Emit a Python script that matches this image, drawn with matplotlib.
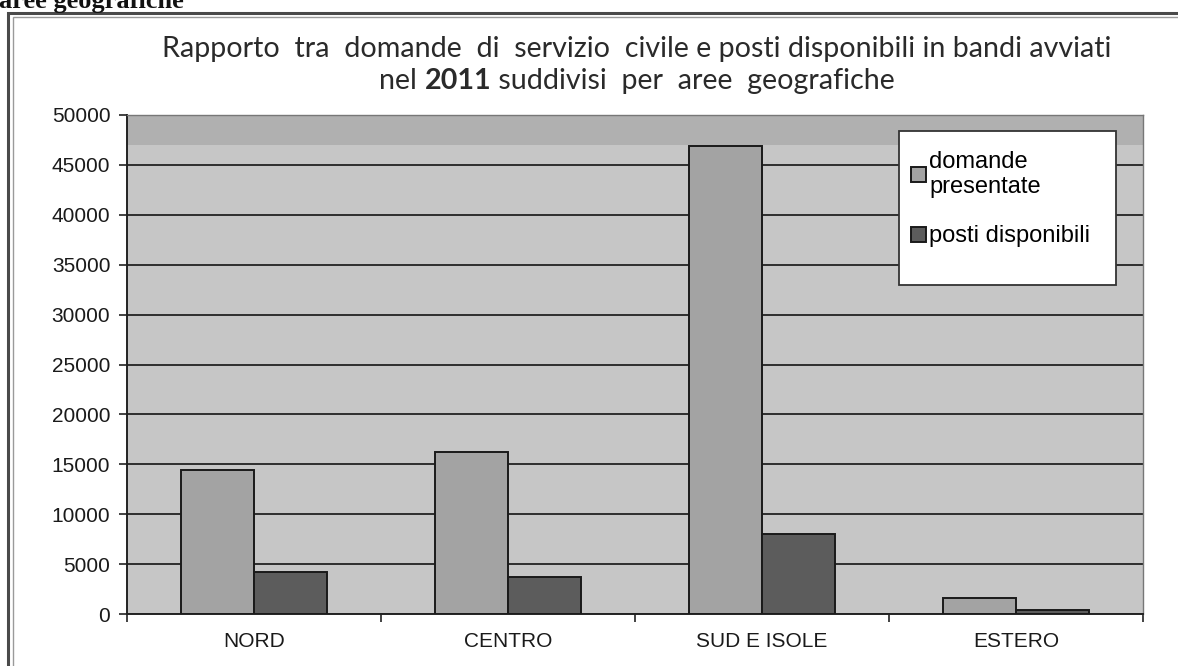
import numpy as np
import matplotlib
matplotlib.use("Agg")
import matplotlib.pyplot as plt
from matplotlib.patches import Rectangle

# data
aree = ["NORD", "CENTRO", "SUD E ISOLE", "ESTERO"]
domande = [14400, 16250, 46900, 1650]
posti = [4200, 3700, 8000, 450]
y_ticks = [0, 5000, 10000, 15000, 20000, 25000, 30000, 35000, 40000, 45000, 50000]

W, H = 1178, 666
fig = plt.figure(figsize=(W / 100, H / 100), dpi=100)
fig.patch.set_facecolor("white")

# outer double frame of the scanned page
fig.add_artist(Rectangle((8 / W, -0.1), 1.2, (H - 13) / H + 0.1, transform=fig.transFigure,
                         fill=False, ec="#4a4a4a", lw=2.2))
fig.add_artist(Rectangle((13 / W, -0.1), 1.2, (H - 17) / H + 0.1, transform=fig.transFigure,
                         fill=False, ec="#9a9a9a", lw=1.0))

# caption cut off at the top of the scan
fig.text(-1 / W, (H - 8) / H, "aree geografiche", family="Liberation Serif",
         weight="bold", fontsize=19, va="baseline", ha="left", color="#111111")

ax = fig.add_axes([127 / W, (H - 614) / H, (1143 - 127) / W, (614 - 115) / H])
ax.set_facecolor("#c6c6c6")
ax.axhspan(47000, 50000, color="#b0b0b0", zorder=0, lw=0)

x = np.arange(len(aree))
w = 1 / 3.5
ax.bar(x - w / 2, domande, w, color="#a3a3a3", edgecolor="#1a1a1a", lw=1.4,
       label="domande\npresentate", zorder=3)
ax.bar(x + w / 2, posti, w, color="#5c5c5c", edgecolor="#1a1a1a", lw=1.4,
       label="posti disponibili", zorder=3)

ax.set_ylim(0, 50000)
ax.set_xlim(-0.5, len(aree) - 0.5)
ax.set_yticks(y_ticks)
ax.set_yticklabels([str(v) for v in y_ticks])
ax.yaxis.grid(True, color="#222222", lw=1.3, zorder=1)
ax.set_axisbelow(True)

ax.set_xticks(x)
ax.set_xticklabels(aree)
ax.set_xticks(np.arange(len(aree) + 1) - 0.5, minor=True)
ax.tick_params(axis="x", which="major", length=0, pad=13)
ax.tick_params(axis="x", which="minor", length=6, width=1.2, color="#222222", direction="out")
ax.tick_params(axis="y", length=6, width=1.2, color="#222222", pad=6)
for lab in ax.get_xticklabels() + ax.get_yticklabels():
    lab.set_family("Liberation Sans")
    lab.set_fontsize(15)
    lab.set_color("#1a1a1a")

for s in ("left", "bottom"):
    ax.spines[s].set_color("#222222")
    ax.spines[s].set_linewidth(1.4)
for s in ("top", "right"):
    ax.spines[s].set_color("#777777")
    ax.spines[s].set_linewidth(1.0)

# legend box (Excel style, white with extra room)
ax.add_patch(Rectangle((0.760, 0.659), 0.213, 0.309, transform=ax.transAxes,
                       facecolor="white", edgecolor="#333333", lw=1.3, zorder=5))
leg = ax.legend(loc="upper left", bbox_to_anchor=(0.772, 0.928), frameon=False,
                prop={"family": "Liberation Sans", "size": 17}, handlelength=0.6,
                handleheight=0.6, handletextpad=0.15, labelspacing=1.15, borderaxespad=0,
                borderpad=0)
leg.set_zorder(6)

# two-line title, "2011" in bold
tfam = "Lato"
tsize = 20.6
cx = 637 / W
fig.text(cx, (H - 49) / H,
         "Rapporto  tra  domande  di  servizio  civile e posti disponibili in bandi avviati",
         family=tfam, fontsize=tsize, ha="center", va="center", color="#2a2a2a")
parts = [("nel ", "normal"), ("2011", "bold"), (" suddivisi  per  aree  geografiche", "normal")]
texts = [fig.text(0, (H - 81) / H, p, family=tfam, fontsize=tsize, weight=wt,
                  ha="left", va="center", color="#2a2a2a") for p, wt in parts]
fig.canvas.draw()
r = fig.canvas.get_renderer()
widths = [t.get_window_extent(r).width for t in texts]
start = cx * W - sum(widths) / 2
for t, wd in zip(texts, widths):
    t.set_x(start / W)
    start += wd

fig.savefig("out.png", dpi=100)
